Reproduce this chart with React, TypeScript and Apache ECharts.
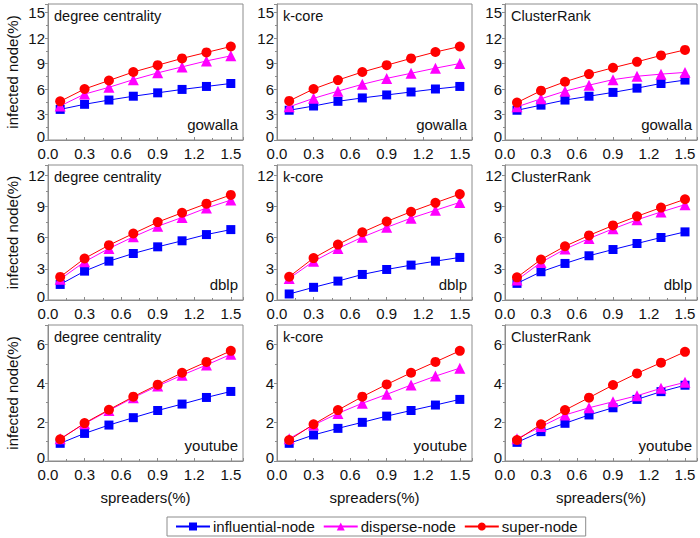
import React, { useEffect, useRef } from "react";
import * as echarts from "echarts";

const spreaders = [0.1, 0.3, 0.5, 0.7, 0.9, 1.1, 1.3, 1.5];
const seriesNames = ["influential-node", "disperse-node", "super-node"];
const methods = ["degree centrality", "k-core", "ClusterRank"];
const datasets = ["gowalla", "dblp", "youtube"];

// gowalla
const gowallaDegreeInfluential = [3.6, 4.2, 4.7, 5.15, 5.55, 5.95, 6.3, 6.65];
const gowallaDegreeDisperse = [4.0, 5.4, 6.2, 7.1, 7.9, 8.6, 9.3, 9.9];
const gowallaDegreeSuper = [4.55, 6.0, 7.0, 8.0, 8.8, 9.6, 10.3, 11.0];
const gowallaKcoreInfluential = [3.5, 4.0, 4.55, 4.95, 5.3, 5.65, 6.0, 6.3];
const gowallaKcoreDisperse = [3.9, 4.9, 5.75, 6.55, 7.25, 7.85, 8.45, 9.0];
const gowallaKcoreSuper = [4.6, 6.0, 7.05, 8.0, 8.8, 9.6, 10.35, 11.0];
const gowallaClusterInfluential = [3.5, 4.1, 4.7, 5.15, 5.6, 6.1, 6.65, 7.05];
const gowallaClusterDisperse = [3.9, 4.85, 5.75, 6.45, 7.1, 7.5, 7.75, 7.95];
const gowallaClusterSuper = [4.4, 5.8, 6.85, 7.75, 8.5, 9.2, 9.95, 10.6];

// dblp
const dblpDegreeInfluential = [1.5, 2.78, 3.74, 4.48, 5.12, 5.7, 6.3, 6.78];
const dblpDegreeDisperse = [2.0, 3.68, 4.96, 6.08, 7.1, 7.95, 8.86, 9.62];
const dblpDegreeSuper = [2.22, 4.0, 5.28, 6.4, 7.5, 8.4, 9.28, 10.12];
const dblpKcoreInfluential = [0.58, 1.22, 1.82, 2.46, 2.94, 3.36, 3.74, 4.1];
const dblpKcoreDisperse = [2.08, 3.72, 4.96, 6.05, 7.0, 7.88, 8.64, 9.4];
const dblpKcoreSuper = [2.24, 4.04, 5.34, 6.52, 7.56, 8.5, 9.36, 10.2];
const dblpClusterInfluential = [1.6, 2.72, 3.52, 4.26, 4.86, 5.44, 6.02, 6.56];
const dblpClusterDisperse = [1.92, 3.62, 4.9, 5.92, 6.85, 7.72, 8.48, 9.18];
const dblpClusterSuper = [2.18, 3.9, 5.18, 6.22, 7.18, 8.06, 8.9, 9.7];

// youtube
const youtubeDegreeInfluential = [0.91, 1.42, 1.85, 2.23, 2.6, 2.93, 3.27, 3.58];
const youtubeDegreeDisperse = [1.15, 1.92, 2.6, 3.26, 3.86, 4.42, 4.94, 5.49];
const youtubeDegreeSuper = [1.12, 1.95, 2.64, 3.31, 3.93, 4.54, 5.1, 5.67];
const youtubeKcoreInfluential = [0.91, 1.34, 1.68, 1.99, 2.31, 2.6, 2.88, 3.17];
const youtubeKcoreDisperse = [1.15, 1.85, 2.45, 2.97, 3.43, 3.91, 4.37, 4.78];
const youtubeKcoreSuper = [1.08, 1.89, 2.62, 3.31, 3.94, 4.54, 5.1, 5.67];
const youtubeClusterInfluential = [0.96, 1.51, 1.94, 2.37, 2.74, 3.17, 3.57, 3.9];
const youtubeClusterDisperse = [1.15, 1.77, 2.37, 2.74, 3.05, 3.36, 3.74, 4.05];
const youtubeClusterSuper = [1.08, 1.89, 2.62, 3.26, 3.91, 4.51, 5.06, 5.62];

const panelData = [
  [
    [gowallaDegreeInfluential, gowallaDegreeDisperse, gowallaDegreeSuper],
    [gowallaKcoreInfluential, gowallaKcoreDisperse, gowallaKcoreSuper],
    [gowallaClusterInfluential, gowallaClusterDisperse, gowallaClusterSuper],
  ],
  [
    [dblpDegreeInfluential, dblpDegreeDisperse, dblpDegreeSuper],
    [dblpKcoreInfluential, dblpKcoreDisperse, dblpKcoreSuper],
    [dblpClusterInfluential, dblpClusterDisperse, dblpClusterSuper],
  ],
  [
    [youtubeDegreeInfluential, youtubeDegreeDisperse, youtubeDegreeSuper],
    [youtubeKcoreInfluential, youtubeKcoreDisperse, youtubeKcoreSuper],
    [youtubeClusterInfluential, youtubeClusterDisperse, youtubeClusterSuper],
  ],
];

const xMin = 0;
const xMax = 1.6;
const xInterval = 0.3;
const rowYMax = [16, 13, 7];
const rowYInterval = [3, 3, 2];

const xLabel = "spreaders(%)";
const yLabel = "infected node(%)";

// layout
const colLeft = [48, 277, 505];
const colRight = [243, 472, 697];
const rowTop = [4, 165, 325];
const rowBottom = [140, 300, 461];
const colors = ["#0000ff", "#ff00ff", "#ff0000"];
const symbols = ["rect", "triangle", "circle"];
const symbolSizes = [9, 11, 10];
const FONT = "'Liberation Sans', Arial, sans-serif";

const isMultiple = (v: number, step: number) =>
  Math.abs(v / step - Math.round(v / step)) < 1e-6;

export default function App() {
  const ref = useRef<HTMLDivElement>(null);
  useEffect(() => {
    if (!ref.current) return;
    const chart = echarts.init(ref.current, null, { renderer: "svg" });
    const grids: any[] = [];
    const xAxes: any[] = [];
    const yAxes: any[] = [];
    const series: any[] = [];
    const graphics: any[] = [];
    let idx = 0;
    for (let r = 0; r < 3; r++) {
      for (let c = 0; c < 3; c++) {
        grids.push({
          left: colLeft[c],
          top: rowTop[r],
          width: colRight[c] - colLeft[c],
          height: rowBottom[r] - rowTop[r],
          show: true,
          borderColor: "#8c8c8c",
          borderWidth: 1,
          backgroundColor: "#fff",
        });
        xAxes.push({
          type: "value",
          gridIndex: idx,
          min: xMin,
          max: xMax,
          interval: xInterval,
          splitLine: { show: false },
          axisLine: { show: true, lineStyle: { color: "#8c8c8c" } },
          axisTick: { show: true, inside: true, length: 3, lineStyle: { color: "#8c8c8c" } },
          minorTick: { show: true, splitNumber: 2, length: 2, lineStyle: { color: "#8c8c8c" } },
          axisLabel: {
            color: "#111",
            fontSize: 15,
            fontFamily: FONT,
            margin: 6,
            formatter: (v: number) => (isMultiple(v, xInterval) ? v.toFixed(1) : ""),
          },
          name: r === 2 ? xLabel : "",
          nameLocation: "middle",
          nameGap: 29,
          nameTextStyle: { color: "#111", fontSize: 15, fontFamily: FONT },
        });
        yAxes.push({
          type: "value",
          gridIndex: idx,
          min: 0,
          max: rowYMax[r],
          interval: rowYInterval[r],
          splitLine: { show: false },
          axisLine: { show: true, lineStyle: { color: "#8c8c8c" } },
          axisTick: { show: true, inside: false, length: 3, lineStyle: { color: "#8c8c8c" } },
          minorTick: { show: true, splitNumber: 2, length: 2, lineStyle: { color: "#8c8c8c" } },
          axisLabel: {
            color: "#111",
            fontSize: 15,
            fontFamily: FONT,
            margin: 3,
            formatter: (v: number) =>
              v === 0 ? "{z|0}" : isMultiple(v, rowYInterval[r]) ? String(v) : "",
            rich: {
              z: {
                color: "#111",
                fontSize: 15,
                fontFamily: FONT,
                padding: [0, 0, 8, 0],
              },
            },
          },
          name: c === 0 ? yLabel : "",
          nameLocation: "middle",
          nameGap: 28,
          nameTextStyle: { color: "#111", fontSize: 15, fontFamily: FONT },
        });
        for (let s = 0; s < 3; s++) {
          series.push({
            type: "line",
            name: seriesNames[s],
            xAxisIndex: idx,
            yAxisIndex: idx,
            data: spreaders.map((x, i) => [x, panelData[r][c][s][i]]),
            symbol: symbols[s],
            symbolSize: symbolSizes[s],
            lineStyle: { color: colors[s], width: 1 },
            itemStyle: { color: colors[s] },
            z: 2 + s,
          });
        }
        graphics.push({
          type: "text",
          left: colLeft[c] + 6,
          top: rowTop[r] + 4,
          style: { text: methods[c], font: `14.5px ${FONT}`, fill: "#111" },
          z: 10,
        });
        graphics.push({
          type: "text",
          right: 700 - colRight[c] + 5,
          top: rowBottom[r] - 23,
          style: { text: datasets[r], font: `15px ${FONT}`, fill: "#111" },
          z: 10,
        });
        idx++;
      }
    }
    chart.setOption({
      animation: false,
      backgroundColor: "#fff",
      grid: grids,
      xAxis: xAxes,
      yAxis: yAxes,
      series,
      graphic: graphics,
      legend: {
        data: seriesNames,
        left: 167,
        top: 517,
        width: 420,
        height: 20,
        padding: [2, 8, 2, 8],
        itemGap: 8,
        itemWidth: 34,
        itemHeight: 10,
        borderColor: "#8c8c8c",
        borderWidth: 1,
        textStyle: { color: "#111", fontSize: 15, fontFamily: FONT, padding: [0, 0, 0, -2] },
      },
    });
    return () => chart.dispose();
  }, []);
  return (
    <div
      ref={ref}
      style={{ position: "fixed", left: 0, top: 0, width: 700, height: 538 }}
    />
  );
}
